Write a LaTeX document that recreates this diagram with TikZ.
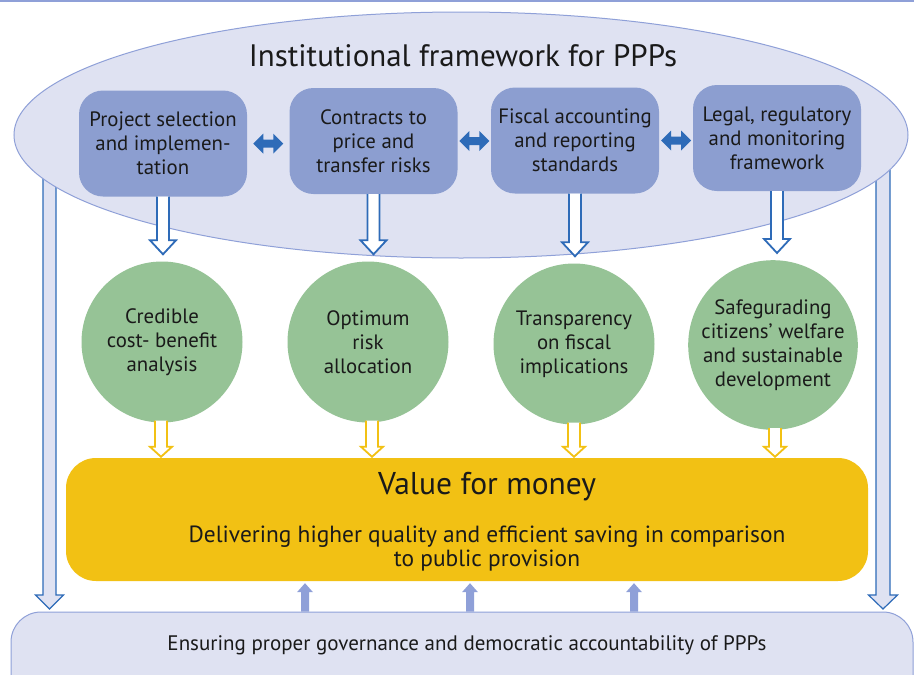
\documentclass[tikz,border=0pt]{standalone}
\usepackage{fontspec}
\setmainfont{PT Sans}
\usetikzlibrary{shapes.geometric,calc}
\definecolor{ellfill}{HTML}{DFE2F2}
\definecolor{ellline}{HTML}{8FA0D8}
\definecolor{boxfill}{HTML}{8C9ED0}
\definecolor{arrblue}{HTML}{2E6BB8}
\definecolor{circfill}{HTML}{96C396}
\definecolor{vfmfill}{HTML}{F2C114}
\definecolor{uparr}{HTML}{8FA0D8}
\definecolor{txt}{HTML}{1A1A1A}
% hollow downward arrow: #1 start, #2 tip, #3 half shaft, #4 half head, #5 head length, #6 style
\newcommand\hollowdown[6]{%
  \path[#6] let \p1=(#1), \p2=(#2) in
    (\x1-#3pt,\y1) -- (\x1-#3pt,\y2+#5pt) -- (\x1-#4pt,\y2+#5pt) -- (\x1,\y2)
    -- (\x1+#4pt,\y2+#5pt) -- (\x1+#3pt,\y2+#5pt) -- (\x1+#3pt,\y1);
}
% solid upward arrow: #1 start, #2 tip
\newcommand\solidup[2]{%
  \path[fill=uparr] let \p1=(#1), \p2=(#2) in
    (\x1-4pt,\y1) -- (\x1-4pt,\y2-9pt) -- (\x1-8pt,\y2-9pt) -- (\x1,\y2)
    -- (\x1+8pt,\y2-9pt) -- (\x1+4pt,\y2-9pt) -- (\x1+4pt,\y1) -- cycle;
}
% double-headed arrow between two nodes
\newcommand\dblarrow[2]{%
  \path[fill=arrblue] let \p1=(#1), \p2=(#2), \n1={(\x1+\x2)/2} in
    (\n1-15pt,\y1) -- (\n1-5pt,\y1+10pt) -- (\n1-5pt,\y1+4pt) -- (\n1+5pt,\y1+4pt)
    -- (\n1+5pt,\y1+10pt) -- (\n1+15pt,\y1) -- (\n1+5pt,\y1-10pt) -- (\n1+5pt,\y1-4pt)
    -- (\n1-5pt,\y1-4pt) -- (\n1-5pt,\y1-10pt) -- cycle;
}
\tikzset{
  bluebox/.style={draw=none, fill=boxfill, rounded corners=24pt, minimum width=168pt,
    minimum height=106pt, align=center, text=txt, font=\fontsize{20.8}{24}\selectfont, inner sep=0pt},
  greencirc/.style={circle, fill=circfill, minimum size=161pt, align=center, text=txt,
    font=\fontsize{20.8}{24}\selectfont, inner sep=0pt},
  sidearrow/.style={fill=ellfill, draw=arrblue, line width=1.2pt, line join=miter},
  boxarrow/.style={fill=white, draw=arrblue, line width=1.8pt, line join=miter},
  yelarrow/.style={fill=white, draw=vfmfill, line width=1.8pt, line join=miter},
}
\begin{document}
\begin{tikzpicture}[x=1pt,y=-1pt]
\useasboundingbox (0,0) rectangle (914,675);
\clip (0,0) rectangle (914,675);
\fill[white] (0,0) rectangle (914,675);
\draw[ellline, line width=1.5pt] (0,1) -- (914,1);

% side arrows (behind the ellipse)
\coordinate (ls) at (49.5,170);
\coordinate (lt) at (49.5,609);
\coordinate (rs) at (883,170);
\coordinate (rt) at (883,609);
\hollowdown{ls}{lt}{6.5}{14}{14}{sidearrow}
\hollowdown{rs}{rt}{7}{14.5}{14}{sidearrow}

% ellipse
\node[ellipse, fill=ellfill, draw=ellline, line width=1pt, minimum width=894pt, minimum height=246pt, inner sep=0pt] (ell) at (461,135) {};
\node[text=txt, font=\fontsize{31}{36}\selectfont] (title) at (463,56) {Institutional framework for PPPs};

% blue boxes
\node[bluebox, text depth=0pt] (b1) at (163,143.5) {Project selection\\and implemen-\\tation};
\node[bluebox] (b2) at (373.5,141) {Contracts to\\price and\\transfer risks};
\node[bluebox] (b3) at (575,140.5) {Fiscal accounting\\and reporting\\standards};
\node[bluebox] (b4) at (777,138) {Legal, regulatory\\and monitoring\\framework};

\dblarrow{b1.east}{b2.west}
\dblarrow{b2.east}{b3.west}
\dblarrow{b3.east}{b4.west}

% green circles
\node[greencirc] (c1) at (162,342) {Credible\\cost- benefit\\analysis};
\node[greencirc] (c2) at (368,342) {Optimum\\risk\\allocation};
\node[greencirc] (c3) at (574,344) {Transparency\\on fiscal\\implications};
\node[greencirc] (c4) at (773,345) {Safegurading\\citizens’ welfare\\and sustainable\\development};

% blue hollow arrows box -> circle
\hollowdown{b1.south}{$(c1.north)+(0,-7)$}{6}{13}{14}{boxarrow}
\hollowdown{b2.south}{$(c2.north)+(0,-7)$}{6}{13}{14}{boxarrow}
\hollowdown{b3.south}{$(c3.north)+(0,-7)$}{6}{13}{14}{boxarrow}
\hollowdown{b4.south}{$(c4.north)+(0,-7)$}{6}{13}{14}{boxarrow}

% value for money box
\node[fill=vfmfill, rounded corners=30pt, minimum width=802pt, minimum height=123pt, inner sep=0pt] (vfm) at (467,519.5) {};
\node[text=txt, font=\fontsize{31.5}{36}\selectfont] (vfmt) at (487,487) {Value for money};
\node[text=txt, font=\fontsize{23.4}{24}\selectfont, align=center] (vfmd) at (487,549) {Delivering higher quality and efficient saving in comparison\\to public provision};

% yellow hollow arrows circle -> value box
\hollowdown{$(c1.south)+(-1,-2)$}{$(c1.south |- vfm.north)+(-1,-1)$}{6}{11}{10}{yelarrow}
\hollowdown{$(c2.south)+(4,-2)$}{$(c2.south |- vfm.north)+(4,-1)$}{6}{11}{10}{yelarrow}
\hollowdown{$(c3.south)+(0,-2)$}{$(c3.south |- vfm.north)+(0,-1)$}{6}{11}{10}{yelarrow}
\hollowdown{$(c4.south)+(2,-2)$}{$(c4.south |- vfm.north)+(2,-1)$}{6}{11}{10}{yelarrow}

% governance box
\node[fill=ellfill, draw=ellline, line width=1pt, rounded corners=30pt, minimum width=902pt, minimum height=110pt, inner sep=0pt] (gov) at (462,667) {};
\node[text=txt, font=\fontsize{21}{24}\selectfont] (govt) at (467,645) {Ensuring proper governance and democratic accountability of PPPs};

% up arrows governance -> value
\coordinate (u1) at (305,611.5);
\coordinate (u2) at (470,611.5);
\coordinate (u3) at (634,611.5);
\solidup{u1}{$(u1 |- vfm.south)+(0,2)$}
\solidup{u2}{$(u2 |- vfm.south)+(0,2)$}
\solidup{u3}{$(u3 |- vfm.south)+(0,2)$}
\end{tikzpicture}
\end{document}
